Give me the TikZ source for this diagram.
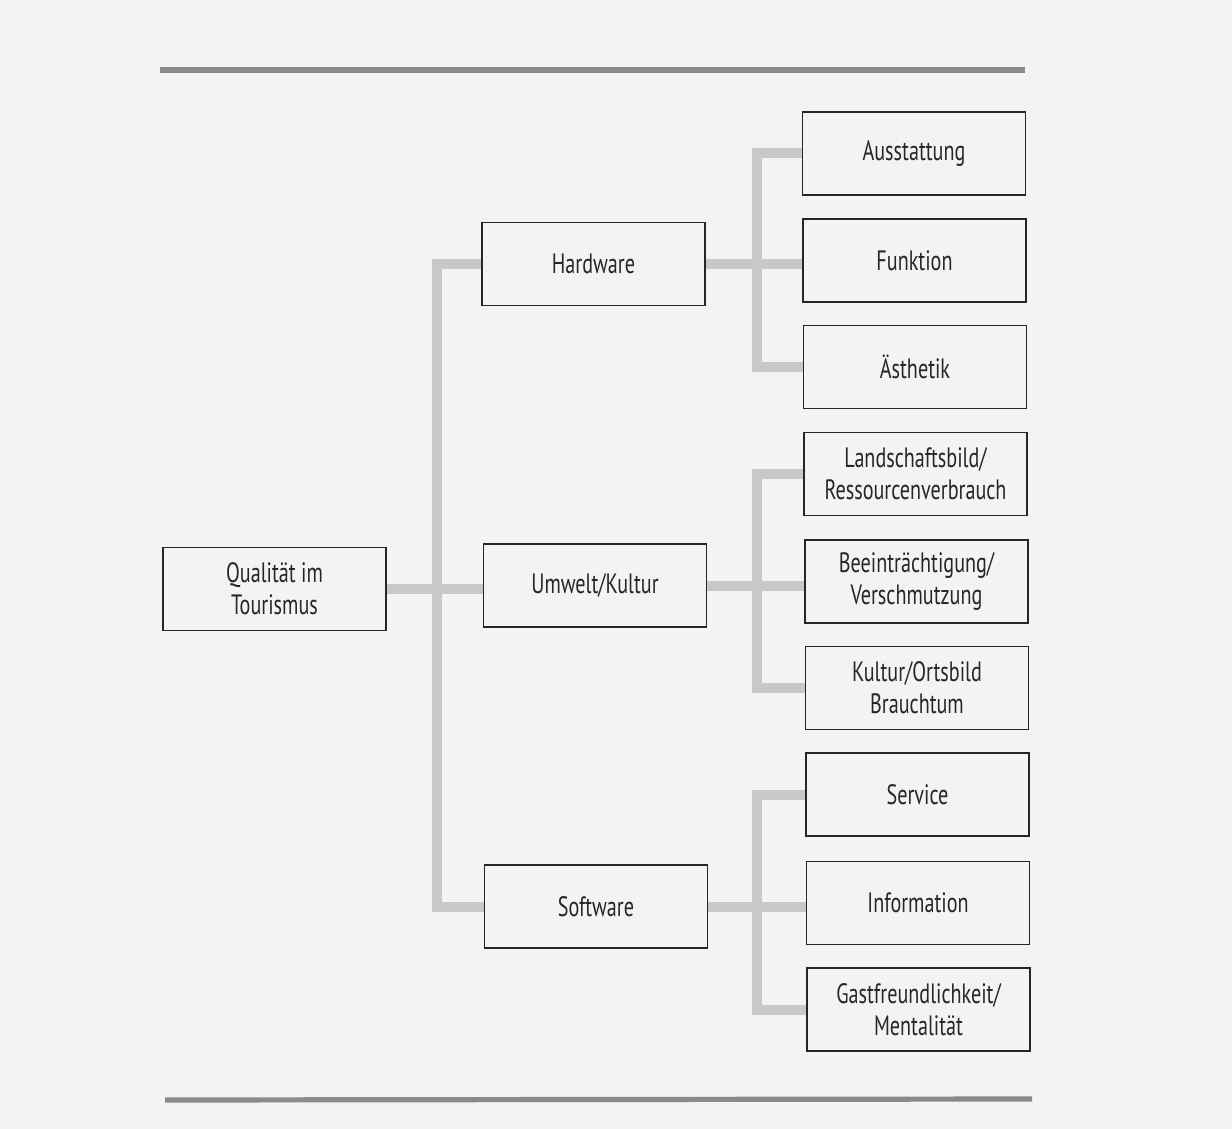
\documentclass[tikz,border=0pt]{standalone}
\usepackage{fontspec}
\setmainfont{PT Sans}[FakeStretch=0.72]
\definecolor{bgc}{HTML}{F3F3F3}
\definecolor{connc}{HTML}{C8C8C8}
\definecolor{rulec}{HTML}{8A8A8A}
\usetikzlibrary{backgrounds}
\begin{document}
\begin{tikzpicture}[x=0.5pt,y=-0.5pt,
  box/.style={draw=black!85, line width=0.9pt, inner sep=0pt, minimum width=111.5pt, minimum height=41.5pt, align=center, font=\fontsize{14}{16}\selectfont, text=black!85},
  conn/.style={draw=connc, line width=5pt},
  rulel/.style={draw=rulec, line width=2.6pt}]
\useasboundingbox (0,0) rectangle (1232,1129);
\coordinate (r1a) at (160,70); \coordinate (r1b) at (1025,70);
\coordinate (r2a) at (165,1100); \coordinate (r2b) at (1032,1099);
\draw[rulel] (r1a) -- (r1b);
\draw[rulel] (r2a) -- (r2b);
\node[box] (root) at (274.5,589) {Qualität im\\Tourismus};
\node[box] (hw) at (593.5,264) {Hardware};
\node[box] (uk) at (595,585.5) {Umwelt/Kultur};
\node[box] (sw) at (596,906.5) {Software};
\node[box] (aus) at (914,153.5) {Ausstattung};
\node[box] (fun) at (914.5,260.5) {Funktion};
\node[box] (aes) at (915,367) {Ästhetik};
\node[box] (lan) at (915.5,474) {Landschaftsbild/\\Ressourcenverbrauch};
\node[box] (bee) at (916.5,581.5) {Beeinträchtigung/\\Verschmutzung};
\node[box] (kul) at (917,688) {Kultur/Ortsbild\\Brauchtum};
\node[box] (ser) at (917.5,794.5) {Service};
\node[box] (inf) at (918,903) {Information};
\node[box] (gas) at (918.5,1009.5) {Gastfreundlichkeit/\\Mentalität};
\begin{scope}[on background layer]
\fill[bgc] (0,0) rectangle (1232,1129);
\coordinate (t0) at (437,590);
\coordinate (t1) at (757,260);
\coordinate (t2) at (757,585);
\coordinate (t3) at (757,905);
\draw[conn] (hw.west) -| (t0) |- (sw.west);
\draw[conn] (root.east) -- (root.east -| uk.west);
\draw[conn] (aus.west) -| (t1) |- (aes.west);
\draw[conn] (hw.east) -- (hw.east -| fun.west);
\draw[conn] (lan.west) -| (t2) |- (kul.west);
\draw[conn] (uk.east) -- (uk.east -| bee.west);
\draw[conn] (ser.west) -| (t3) |- (gas.west);
\draw[conn] (sw.east) -- (sw.east -| inf.west);
\end{scope}
\end{tikzpicture}
\end{document}
